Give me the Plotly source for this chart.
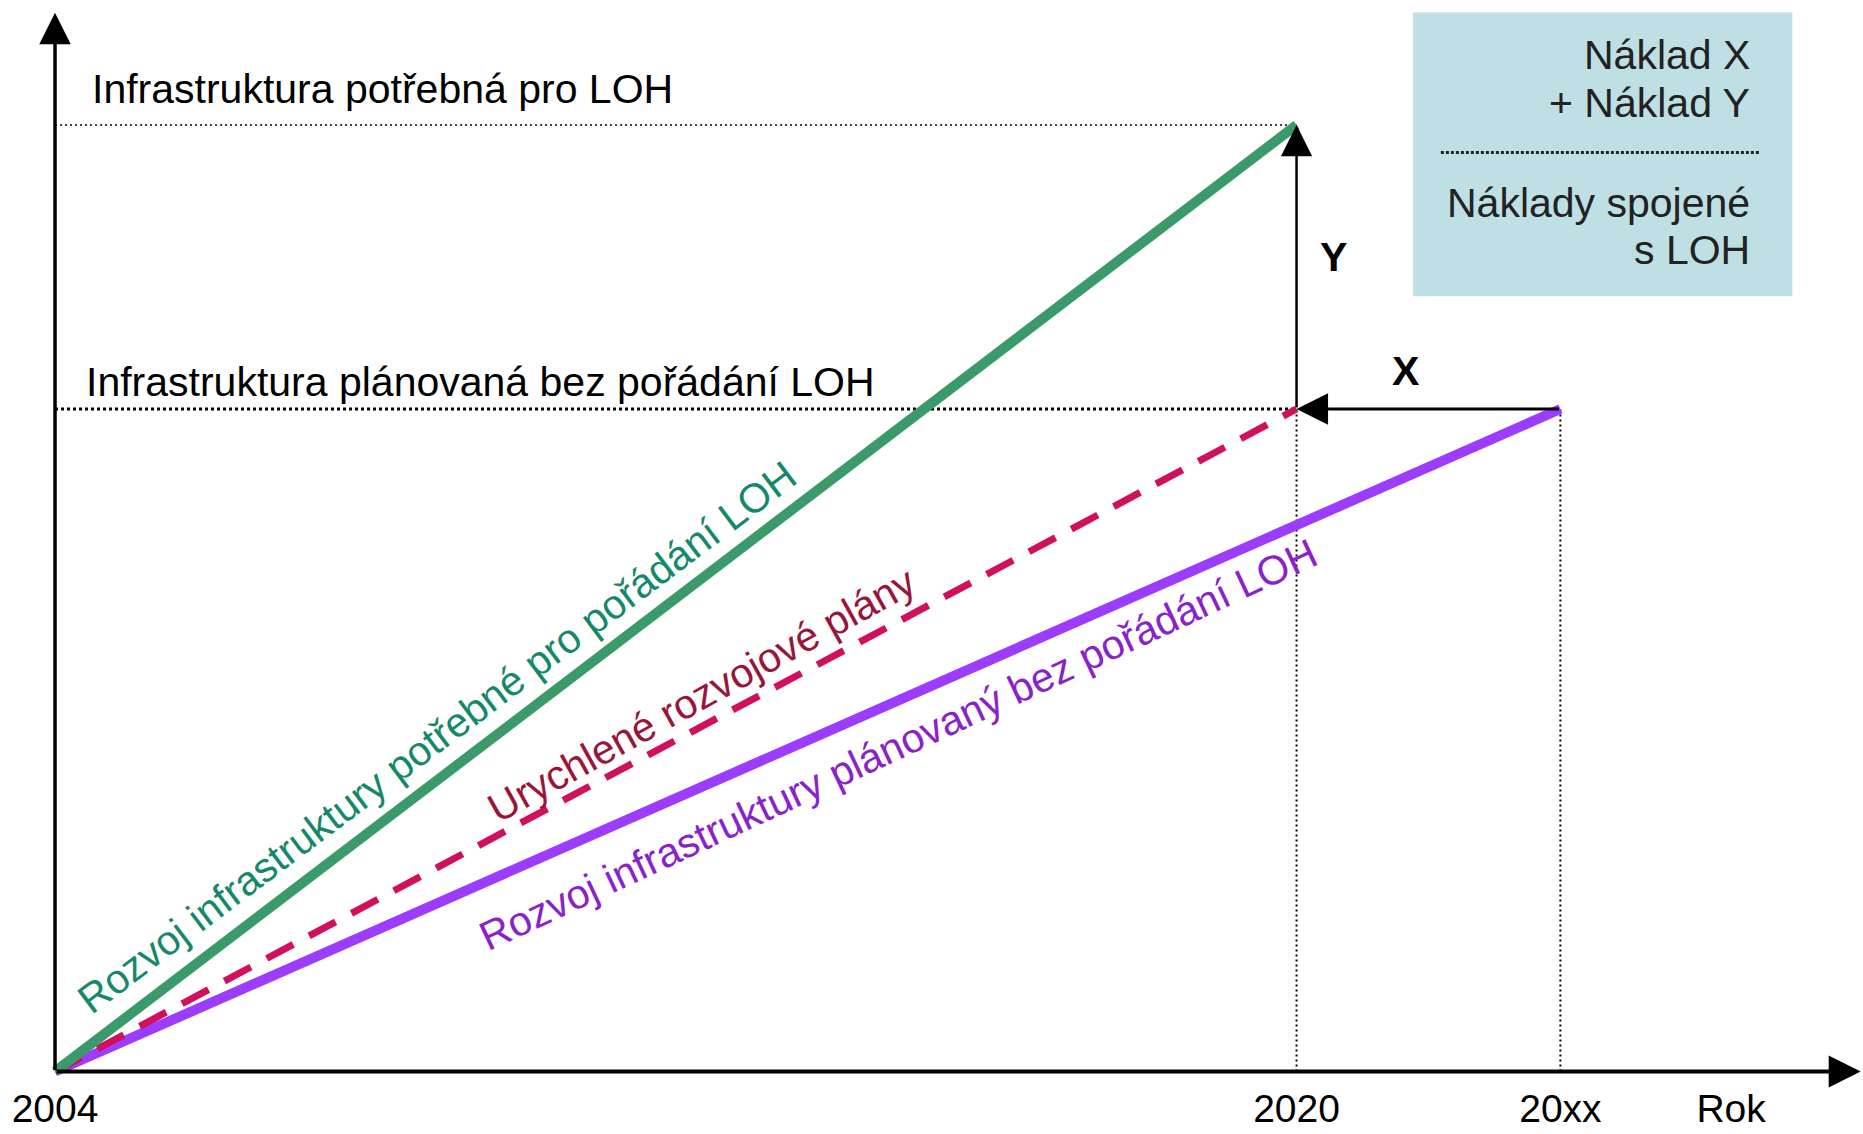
import plotly.graph_objects as go

# ---- data (conceptual diagram values) ----
tick_labels = ["2004", "2020", "20xx", "Rok"]
tick_pos = [0, 16, 19.4, 21.6]          # years after 2004 (20xx ~ 19.4, "Rok" = axis label)
year_start = 0
year_2020 = 16
year_20xx = 19.4
level_needed = 100                       # Infrastruktura potřebná pro LOH
level_planned = 70                       # Infrastruktura plánovaná bez pořádání LOH

green_x = [year_start, year_2020]
green_y = [0, level_needed]
red_x = [year_start, year_2020]
red_y = [0, level_planned]
purple_x = [year_start, year_20xx]
purple_y = [0, level_planned]

FONT = "Liberation Sans, Arial, sans-serif"
FS = 41

X_RANGE = [-0.709, 23.30]
Y_RANGE = [-6.60, 113.21]

fig = go.Figure()

# dotted guide lines
dot = dict(color="black", width=2, dash="2px,3px")
fig.add_trace(go.Scatter(x=[year_start, year_2020], y=[level_needed, level_needed],
                         mode="lines", line=dict(color="black", width=1.6, dash="2px,3px"),
                         hoverinfo="skip"))
fig.add_trace(go.Scatter(x=[year_start, year_2020], y=[level_planned, level_planned],
                         mode="lines", line=dict(color="black", width=3, dash="3px,3px"),
                         hoverinfo="skip"))
fig.add_trace(go.Scatter(x=[year_2020, year_2020], y=[0, level_planned],
                         mode="lines", line=dot, hoverinfo="skip"))
fig.add_trace(go.Scatter(x=[year_20xx, year_20xx], y=[0, level_planned],
                         mode="lines", line=dot, hoverinfo="skip"))

# main series
fig.add_trace(go.Scatter(x=purple_x, y=purple_y, mode="lines",
                         line=dict(color="#9B3CFF", width=10), hoverinfo="skip"))
fig.add_trace(go.Scatter(x=red_x, y=red_y, mode="lines",
                         line=dict(color="#D0105C", width=7, dash="30px,18px"), hoverinfo="skip"))
fig.add_trace(go.Scatter(x=green_x, y=green_y, mode="lines",
                         line=dict(color="#3A9A6A", width=10), hoverinfo="skip"))

# legend box
fig.add_shape(type="rect", xref="x", yref="y", x0=17.5, x1=22.39, y0=81.9, y1=111.9,
              fillcolor="#BEE0E4", line=dict(width=0), layer="below")
fig.add_shape(type="line", xref="x", yref="y", x0=17.86, x1=21.96, y0=97.1, y1=97.1,
              line=dict(color="#222", width=3, dash="3px,2px"))

ann = []
def txt(x, y, s, color="black", size=FS, xanchor="center", angle=0, bold=False):
    ann.append(dict(x=x, y=y, xref="x", yref="y", text=("<b>%s</b>" % s) if bold else s,
                    showarrow=False, xanchor=xanchor, yanchor="middle", textangle=angle,
                    font=dict(family=FONT, size=size, color=color)))

txt(0.45, 103.8, "Infrastruktura potřebná pro LOH", xanchor="left")
txt(0.37, 72.8, "Infrastruktura plánovaná bez pořádání LOH", xanchor="left")
txt(16.47, 86.1, "Y", bold=True)
txt(17.41, 74.0, "X", bold=True)
txt(21.87, 107.4, "Náklad X", color="#222", xanchor="right")
txt(21.87, 102.3, "+ Náklad Y", color="#222", xanchor="right")
txt(21.87, 91.8, "Náklady spojené", color="#222", xanchor="right")
txt(21.87, 86.8, "s LOH", color="#222", xanchor="right")
txt(4.93, 35.3, "Rozvoj infrastruktury potřebné pro pořádání LOH", color="#14896A", angle=-37)
txt(8.33, 39.8, "Urychlené rozvojové plány", color="#99153A", angle=-29)
txt(10.86, 34.5, "Rozvoj infrastruktury plánovaný bez pořádání LOH", color="#8A22CC", angle=-25)

def arrow(x0, y0, x1, y1, width, size):
    ann.append(dict(x=x1, y=y1, ax=x0, ay=y0, xref="x", yref="y", axref="x", ayref="y",
                    text="", showarrow=True, arrowhead=2, arrowwidth=width,
                    arrowsize=size, arrowcolor="black"))

arrow(year_start, 0, year_start, 111.86, 3.5, 1.8)        # y axis
arrow(year_start, 0, 23.27, 0, 4, 1.6)                    # x axis
arrow(year_2020, level_planned, year_2020, level_needed, 2.5, 2.5)   # Y
arrow(year_20xx, level_planned, year_2020, level_planned, 3, 2.1)    # X

fig.update_layout(
    width=1863, height=1134,
    margin=dict(l=0, r=0, t=0, b=0, autoexpand=False),
    paper_bgcolor="white", plot_bgcolor="white",
    showlegend=False,
    annotations=ann,
    xaxis=dict(range=X_RANGE, showgrid=False, zeroline=False, showline=False,
               automargin=False,
               tickvals=tick_pos, ticktext=tick_labels, ticks="outside", ticklen=3,
               tickcolor="rgba(0,0,0,0)", anchor="free", position=0.05509,
               tickfont=dict(family=FONT, size=39, color="black")),
    yaxis=dict(range=Y_RANGE, showgrid=False, zeroline=False, showline=False,
               automargin=False, showticklabels=False, ticks=""),
)

fig.write_html("out.html", config={"displayModeBar": False},
               post_script="document.body.style.margin='0';")
